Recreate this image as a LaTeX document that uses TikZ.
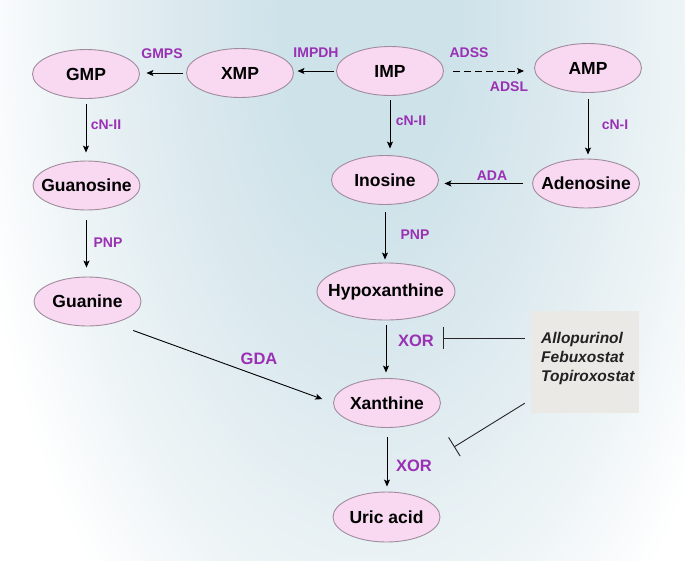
\documentclass[tikz,border=0pt]{standalone}
\usepackage{fontspec}
\setmainfont{Liberation Sans}
\usetikzlibrary{shapes.geometric,arrows.meta}
\definecolor{nodefill}{HTML}{F8D9F1}
\definecolor{nodeedge}{HTML}{A08C9C}
\definecolor{enz}{HTML}{9A30B4}
\definecolor{boxfill}{HTML}{EBE9E6}
\definecolor{bgA}{HTML}{CDE2E9}
\definecolor{bgB}{HTML}{DDEAEF}
\definecolor{bgC}{HTML}{EFF5F7}
\definecolor{drugtext}{HTML}{222222}
\pgfdeclareradialshading{bgshade}{\pgfpoint{0bp}{0bp}}{color(0bp)=(bgA); color(5bp)=(bgA); color(12bp)=(bgB); color(19bp)=(bgC); color(24bp)=(white); color(50bp)=(white)}
\tikzset{
  met/.style={ellipse, draw=nodeedge, line width=0.9pt, fill=nodefill, inner sep=0pt,
    font=\bfseries\fontsize{17.5}{20}\selectfont, minimum width=107pt, minimum height=49pt},
  enzlbl/.style={text=enz, font=\bfseries\fontsize{14}{16}\selectfont, inner sep=0pt},
  enzbig/.style={text=enz, font=\bfseries\fontsize{16.5}{19}\selectfont, inner sep=0pt},
  rxn/.style={draw=black, line width=0.9pt, -{Stealth[length=7pt,width=6pt,inset=1.5pt]}},
  inhib/.style={draw=black!85, line width=0.9pt, -{Bar[width=22pt]}},
}
\begin{document}
\begin{tikzpicture}[x=1pt,y=-1pt]
\useasboundingbox (0,0) rectangle (685,560);
\fill[white] (0,0) rectangle (685,560);
\begin{scope}
  \clip (0,0) rectangle (685,560);
  \shade[shading=bgshade] (370,20) ellipse [x radius=420, y radius=800];
\end{scope}

% metabolites
\node[met] (GMP) at (86,74) {\makebox[0pt]{GMP}};
\node[met] (XMP) at (240,73) {\makebox[0pt]{XMP}};
\node[met] (IMP) at (390,71) {\makebox[0pt]{IMP}};
\node[met] (AMP) at (588,68) {\makebox[0pt]{AMP}};
\node[met] (Guanosine) at (86.5,185.5) {\makebox[0pt]{Guanosine}};
\node[met] (Inosine) at (385,180) {\makebox[0pt]{Inosine}};
\node[met] (Adenosine) at (586,183.5) {\makebox[0pt]{Adenosine}};
\node[met] (Guanine) at (87.5,301.5) {\makebox[0pt]{Guanine}};
\node[met, minimum width=138pt, minimum height=57pt] (Hypo) at (386,291.5) {\makebox[0pt]{Hypoxanthine}};
\node[met] (Xanthine) at (387,403) {\makebox[0pt]{Xanthine}};
\node[met, minimum height=50pt] (Uric) at (386.5,517) {\makebox[0pt]{Uric acid}};

% inhibitor box
\node[draw=none, fill=boxfill, minimum width=108pt, minimum height=102pt, inner sep=0pt] (box) at (585,362) {};
\node[anchor=west, align=left, inner sep=0pt, text=drugtext,
      font=\bfseries\itshape\fontsize{15.5}{19}\selectfont] (drugs) at (541,358)
      {Allopurinol\\Febuxostat\\Topiroxostat};

% reactions
\draw[rxn, shorten <=3.5pt, shorten >=6.5pt] (XMP.west) -- (XMP.west -| GMP.east);
\draw[rxn, shorten <=2pt, shorten >=3.5pt] (IMP.west) -- (IMP.west -| XMP.east);
\draw[rxn, dash pattern=on 7pt off 4pt, shorten <=9pt, shorten >=10pt] (IMP.east) -- (IMP.east -| AMP.west);
\draw[rxn, shorten <=5.5pt, shorten >=8pt] (GMP.south) -- (GMP.south |- Guanosine.north);
\draw[rxn, shorten <=4.5pt, shorten >=6.5pt] (IMP.south) -- (IMP.south |- Inosine.north);
\draw[rxn, shorten <=6.5pt, shorten >=4pt] (AMP.south) -- (AMP.south |- Adenosine.north);
\draw[rxn, shorten <=9.5pt, shorten >=5.5pt] (Adenosine.west) -- (Adenosine.west -| Inosine.east);
\draw[rxn, shorten <=10pt, shorten >=9pt] (Guanosine.south) -- (Guanosine.south |- Guanine.north);
\draw[rxn, shorten <=7.5pt, shorten >=3pt] (Inosine.south) -- (Inosine.south |- Hypo.north);
\draw[rxn, shorten <=5pt, shorten >=5.5pt] (Hypo.south) -- (Hypo.south |- Xanthine.north);
\draw[rxn, shorten <=9.5pt, shorten >=5pt] (Xanthine.south) -- (Xanthine.south |- Uric.north);
\draw[rxn, shorten <=21pt, shorten >=11.5pt] (Guanine.-40) -- (Xanthine.west);

% inhibition
\coordinate (i1e) at (443,338);
\coordinate (i2e) at (454,447);
\draw[inhib, shorten <=6pt] (box.west |- i1e) -- (i1e);
\draw[inhib] ([shift={(-6,-10)}]box.south west) -- (i2e);

% enzyme labels
\node[enzlbl] (lGMPS) at (162,54) {GMPS};
\node[enzlbl] (lIMPDH) at (316,53) {IMPDH};
\node[enzlbl] (lADSS) at (469,53) {ADSS};
\node[enzlbl] (lADSL) at (509,87) {ADSL};
\node[enzlbl] (lcN1) at (106,125) {cN-II};
\node[enzlbl] (lcN2) at (411,121) {cN-II};
\node[enzlbl] (lcN3) at (615,125) {cN-I};
\node[enzlbl] (lADA) at (492,176) {ADA};
\node[enzlbl] (lPNP1) at (108,243) {PNP};
\node[enzlbl] (lPNP2) at (415,235) {PNP};
\node[enzbig] (lGDA) at (259,359) {GDA};
\node[enzbig] (lXOR1) at (416,341) {XOR};
\node[enzbig] (lXOR2) at (414,466) {XOR};
\end{tikzpicture}
\end{document}
